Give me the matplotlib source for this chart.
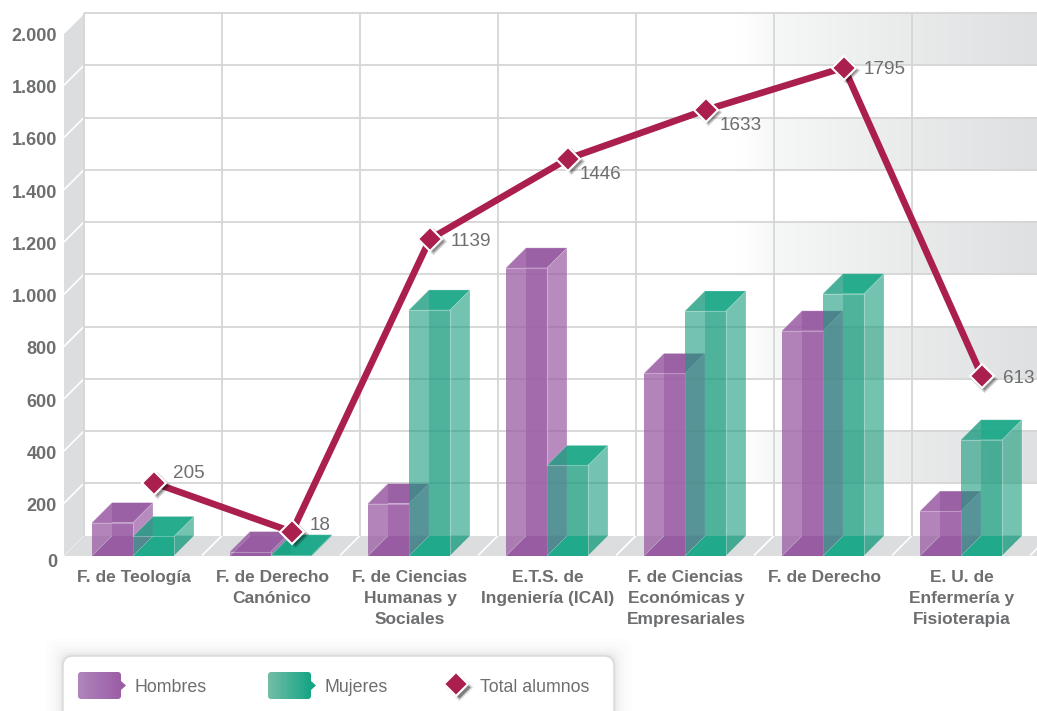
import numpy as np
import matplotlib
matplotlib.use("Agg")
import matplotlib.pyplot as plt
from matplotlib.patches import FancyBboxPatch, Polygon
from matplotlib.transforms import ScaledTranslation
from matplotlib.colors import to_rgb

plt.rcParams['font.family'] = ['Liberation Sans', 'DejaVu Sans']

categories = ["F. de Teología", "F. de Derecho\nCanónico", "F. de Ciencias\nHumanas y\nSociales",
              "E.T.S. de\nIngeniería (ICAI)", "F. de Ciencias\nEconómicas y\nEmpresariales",
              "F. de Derecho", "E. U. de\nEnfermería y\nFisioterapia"]
hombres = [126, 15, 199, 1101, 697, 860, 170]
mujeres = [73, 3, 940, 345, 936, 1002, 443]
total = [205, 18, 1139, 1446, 1633, 1795, 613]
y_ticks = [0, 200, 400, 600, 800, 1000, 1200, 1400, 1600, 1800, 2000]
y_labels = ["0", "200", "400", "600", "800", "1.000", "1.200", "1.400", "1.600", "1.800", "2.000"]
label_offsets = [(19, 9), (18, 6), (21, -3), (12, -15.5), (14, -16), (20, -2), (21, -2)]

W, H = 1037, 711
PX_X, PX_Y = 138.0, 0.2615         # pixels per category / per unit
DX, DY = 20.0 / PX_X, 20.0 / PX_Y  # depth offset of the pseudo-3D box
BW = 41.0 / PX_X
X0 = -0.5
X1 = X0 + (W - 64) / PX_X
YTOP = 2000 + DY

GRID = "#d5d6d6"
WALL = "#dcddde"
TXT = "#6d6e70"
LINE = "#aa1f4d"
PURPLE = (155/255, 94/255, 165/255)
PURPLE_DARK = "#975ca2"
GREEN = (24/255, 155/255, 125/255)
GREEN_DARK = "#20a98a"

fig = plt.figure(figsize=(W/100, H/100), dpi=100, facecolor="white")
ax = fig.add_axes([64/W, 1 - 555.5/H, (W-64)/W, (555.5-13)/H])
ax.set_facecolor("white")

# ---- shaded bands on the back wall
stops_px = [0, 740, 775, 912, 1037]
stops_c = np.array([to_rgb("#ffffff"), to_rgb("#ffffff"), to_rgb("#f6f7f7"), to_rgb("#e9eaea"), to_rgb("#dfe0e2")])
cols = np.linspace(84, 1037, 300)
grad = np.stack([np.interp(cols, stops_px, stops_c[:, k]) for k in range(3)], axis=-1)[None, :, :]
for lo in [200, 600, 1000, 1400, 1800]:
    ax.imshow(grad, extent=[X0 + DX, X1, lo + DY, lo + 200 + DY], aspect="auto", zorder=1, interpolation="bilinear")

# ---- left wall and floor
ax.fill([X0, X0 + DX, X0 + DX, X0], [0, DY, YTOP, 2000], color=WALL, lw=0, zorder=1.5)
ax.fill([X0, X1, X1, X0 + DX], [0, 0, DY, DY], color=WALL, lw=0, zorder=1.5)
for v in y_ticks[1:]:
    ax.plot([X0, X0 + DX], [v, v + DY], color="white", lw=1.2, zorder=1.6, solid_capstyle="butt", clip_on=False)
for k in range(1, 8):
    ax.plot([X0 + k, X0 + k + DX], [0, DY], color="white", lw=1.2, zorder=1.6, solid_capstyle="butt")

# ---- grid on the back wall
for v in y_ticks[1:]:
    ax.plot([X0 + DX, X1], [v + DY, v + DY], color=GRID, lw=1.3, zorder=2, clip_on=False, solid_capstyle="butt")
for k in range(7):
    ax.plot([X0 + k + DX] * 2, [DY, YTOP], color=GRID, lw=1.3, zorder=2, clip_on=False, solid_capstyle="butt")


def box(x, v, col, dark, z, mid_a, side_l, side_r):
    """Translucent pseudo-3D column with front-left corner at x and height v."""
    r = x + BW
    kw = dict(lw=0, zorder=z)
    # floor of the box
    ax.fill([x, r, r, x + DX], [0, 0, DY, DY], color=dark, **kw)
    ax.fill([r, r + DX, r], [0, DY, DY], color=col, alpha=0.45, **kw)
    # left and right faces, middle band
    ax.fill([x, x + DX, x + DX, x], [0, DY, v + DY, v], color=col, alpha=side_l, **kw)
    ax.fill([r, r + DX, r + DX, r], [0, DY, v + DY, v], color=col, alpha=side_r, **kw)
    if v > DY:
        ax.fill([x + DX, r, r, x + DX], [DY, DY, v, v], color=col, alpha=mid_a, **kw)
    # lid of the box
    ax.fill([x, x + DX, x + DX], [v, v + DY, v], color=col, alpha=0.45, **kw)
    ax.fill([x + DX, r, r + DX, x + DX], [v, v, v + DY, v + DY], color=dark, alpha=0.97, **kw)
    # light edges
    ax.plot([x, r, r], [v, v, 0], color="white", alpha=0.3, lw=0.8, zorder=z + 0.01)
    ax.plot([r, r + DX, r + DX], [v, v + DY, DY], color="white", alpha=0.25, lw=0.6, zorder=z + 0.01)
    ax.plot([x, x + DX, r + DX], [v, v + DY, v + DY], color="white", alpha=0.25, lw=0.6, zorder=z + 0.01)


for i, h in enumerate(hombres):
    box(i - BW, h, PURPLE, PURPLE_DARK, 3 + i * 0.1, 0.92, 0.76, 0.72)
for i, m in enumerate(mujeres):
    box(i, m, GREEN, GREEN_DARK, 4 + i * 0.1, 0.76, 0.6, 0.6)

# ---- total line, drawn on the back plane
xs = np.arange(len(total)) + DX + 1 / PX_X
ys = np.array(total) + DY - 1 / PX_Y
ax.plot(xs, ys, color=LINE, lw=4.8, zorder=6, solid_joinstyle="round")
shadow = ax.transData + ScaledTranslation(2.5/100, -2.5/100, fig.dpi_scale_trans)
for ms, a in [(14.5, 0.08), (13, 0.16), (11.5, 0.28)]:
    ax.plot(xs, ys, ls="none", marker="D", ms=ms, mfc="black", mec="none", alpha=a, transform=shadow, zorder=6.5, clip_on=False)
ax.plot(xs, ys, ls="none", marker="D", ms=12, mfc=LINE, mec="white", mew=1.5, zorder=7, clip_on=False)
for x, y, t, off in zip(xs, ys, total, label_offsets):
    ax.annotate(str(t), (x, y), xytext=(off[0]*0.72, off[1]*0.72), textcoords="offset points",
                ha="left", va="center", fontsize=13.6, color=TXT, zorder=8)

# ---- axes
ax.set_xlim(X0, X1)
ax.set_ylim(0, YTOP)
for s in ax.spines.values():
    s.set_visible(False)
ax.set_yticks(y_ticks)
ax.set_yticklabels(y_labels)
ax.set_xticks(range(len(categories)))
ax.set_xticklabels(categories, linespacing=1.5)
ax.tick_params(axis="x", length=0, colors=TXT, labelsize=12.5, pad=10.5)
ax.tick_params(axis="y", length=0, colors=TXT, labelsize=13, pad=5)
for lab in ax.get_xticklabels() + ax.get_yticklabels():
    lab.set_fontweight("bold")
for lab in ax.get_xticklabels():
    lab.set_transform(lab.get_transform() + ScaledTranslation(1/100, 0, fig.dpi_scale_trans))
for v, lab in zip(y_ticks, ax.get_yticklabels()):
    shift = 5 if v == 0 else 1.5
    lab.set_transform(lab.get_transform() + ScaledTranslation(0, -shift/100, fig.dpi_scale_trans))

# ---- legend panel, in pixel coordinates
lg = fig.add_axes([0, 0, 1, 1], zorder=10)
lg.set_xlim(0, W)
lg.set_ylim(H, 0)
lg.axis("off")
for grow, a in [(18, 0.006), (14, 0.008), (10, 0.012), (7, 0.016), (4, 0.024), (2, 0.03)]:
    lg.add_patch(FancyBboxPatch((63 - grow, 656 - grow), 551 + 2*grow, 90, boxstyle="round,pad=0,rounding_size=12",
                                fc="black", ec="none", alpha=a))
lg.add_patch(FancyBboxPatch((63, 656), 551, 90, boxstyle="round,pad=0,rounding_size=10",
                            fc="white", ec="#d8d8d8", lw=1.0))


def swatch(x, c0, c1, c_tip):
    ramp = np.linspace(0, 1, 64)[:, None]
    img = (1 - ramp) * np.array(to_rgb(c0)) + ramp * np.array(to_rgb(c1))
    im = lg.imshow(img[None, :, :], extent=[x, x + 43, 699, 672], aspect="auto", zorder=3)
    clip = FancyBboxPatch((x, 672), 43, 27, boxstyle="round,pad=0,rounding_size=3", fc="none", ec="none",
                          transform=lg.transData)
    lg.add_patch(clip)
    im.set_clip_path(clip)
    lg.add_patch(Polygon([(x + 43, 681), (x + 48, 685.5), (x + 43, 690)], fc=c_tip, ec="none", zorder=3))


swatch(78, "#b085bc", "#9b5ea5", "#9b5ea5")
swatch(268, "#74bda7", "#14a585", "#14a585")
lg.set_xlim(0, W)
lg.set_ylim(H, 0)
for ms, a in [(14, 0.1), (12.5, 0.2), (11, 0.3)]:
    lg.plot([458.5], [686.5], ls="none", marker="D", ms=ms, mfc="black", mec="none", alpha=a, zorder=3)
lg.plot([456], [684], ls="none", marker="D", ms=12, mfc=LINE, mec="white", mew=1.5, zorder=4)
for x, t in [(135, "Hombres"), (324, "Mujeres"), (480, "Total alumnos")]:
    lg.text(x, 687.5, t, fontsize=12.8, color=TXT, ha="left", va="center", zorder=5)

fig.savefig("out.png", dpi=100)
